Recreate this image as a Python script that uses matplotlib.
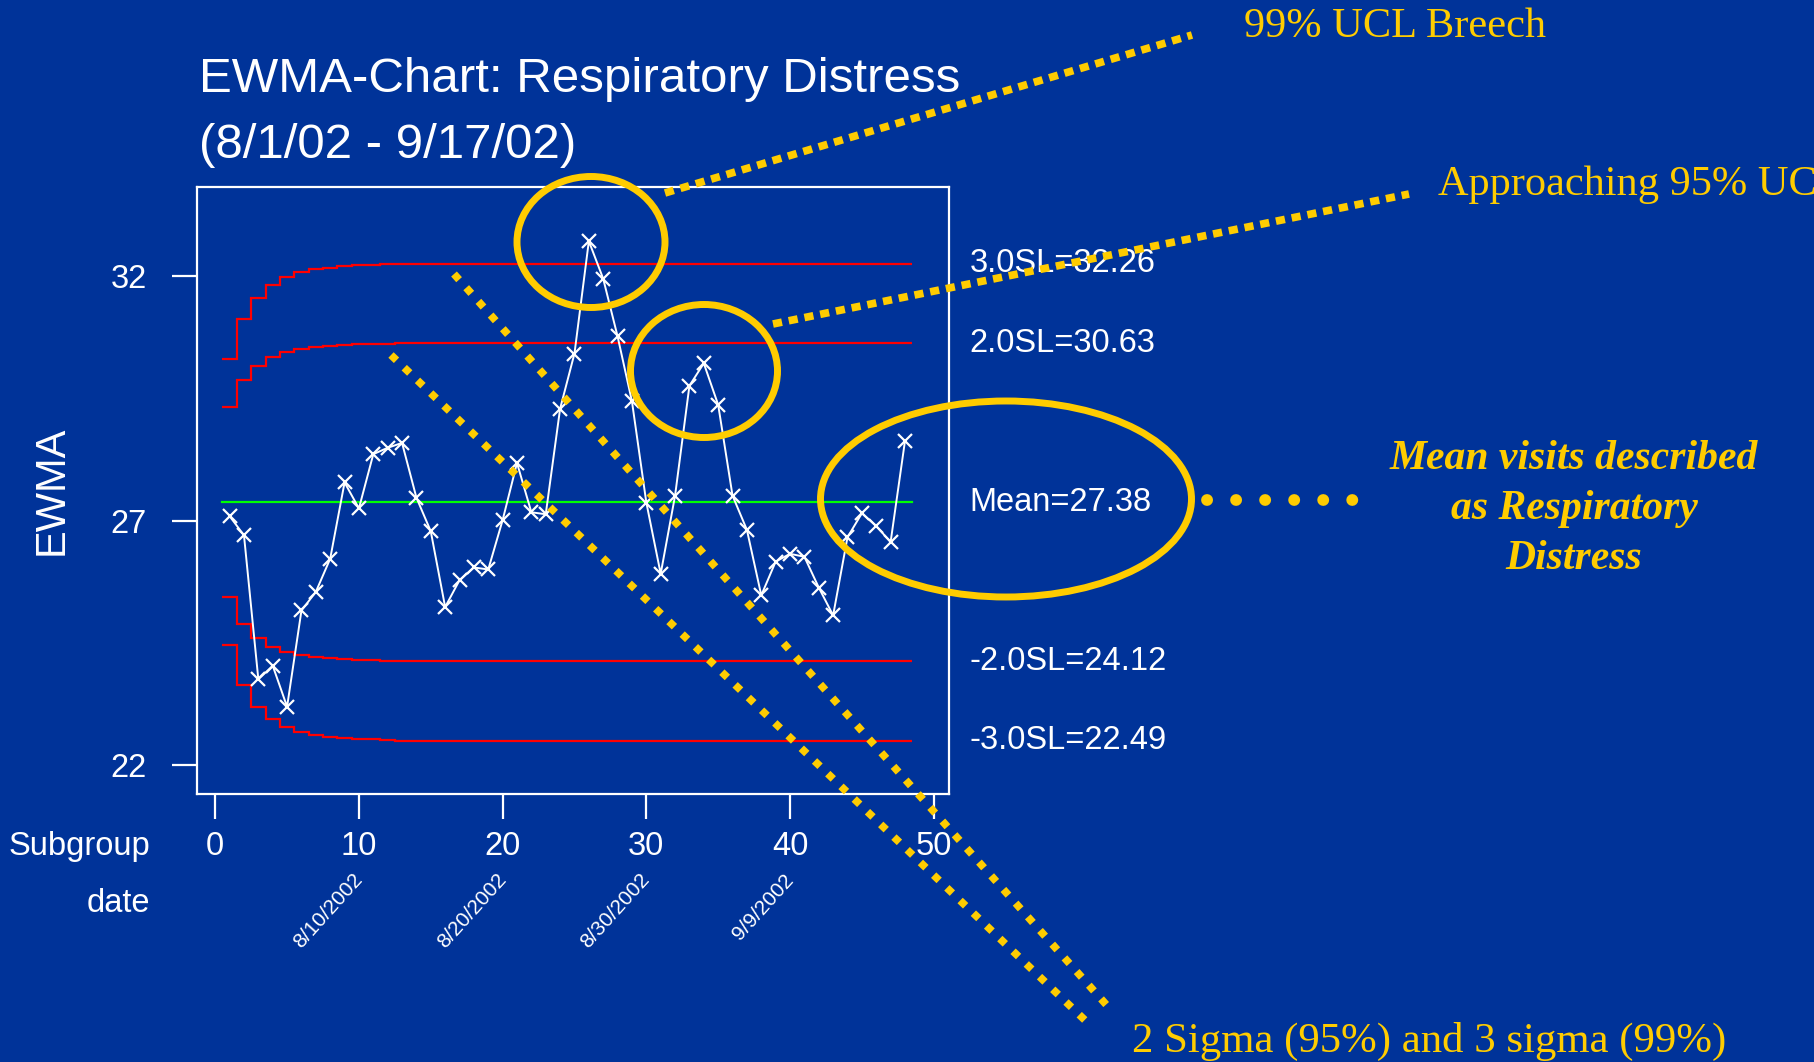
import numpy as np
import matplotlib
matplotlib.use("Agg")
import matplotlib.pyplot as plt
from matplotlib.patches import Ellipse
from matplotlib.transforms import blended_transform_factory

# ---------------- data ----------------
subgroup = list(range(1, 49))
ewma = [27.09, 26.70, 23.75, 24.03, 23.19, 25.16, 25.54, 26.22, 27.78, 27.25,
        28.36, 28.49, 28.59, 27.47, 26.78, 25.23, 25.78, 26.04, 26.00, 27.01,
        28.18, 27.17, 27.13, 29.29, 30.42, 32.72, 31.95, 30.77, 29.44, 27.37,
        25.91, 27.51, 29.76, 30.22, 29.37, 27.51, 26.81, 25.47, 26.16, 26.32,
        26.26, 25.63, 25.06, 26.66, 27.15, 26.89, 26.56, 28.63]
mean_val = 27.38
ucl3 = [30.31, 31.12, 31.56, 31.82, 31.98, 32.08, 32.14, 32.18, 32.21, 32.23, 32.24, 32.25] + [32.26] * 36
ucl2 = [29.33, 29.88, 30.17, 30.34, 30.45, 30.52, 30.56, 30.58, 30.60, 30.61, 30.62, 30.62] + [30.63] * 36
lcl2 = [25.43, 24.88, 24.59, 24.42, 24.31, 24.24, 24.20, 24.18, 24.16, 24.15, 24.14, 24.13] + [24.12] * 36
lcl3 = [24.45, 23.63, 23.19, 22.93, 22.77, 22.67, 22.61, 22.57, 22.54, 22.53, 22.52, 22.50] + [22.49] * 36
limit_labels = ["3.0SL=32.26", "2.0SL=30.63", "Mean=27.38", "-2.0SL=24.12", "-3.0SL=22.49"]
limit_values = [32.26, 30.63, 27.38, 24.12, 22.49]
x_ticks = [0, 10, 20, 30, 40, 50]
y_ticks = [22, 27, 32]
date_ticks = [10, 20, 30, 40]
date_labels = ["8/10/2002", "8/20/2002", "8/30/2002", "9/9/2002"]

# ---------------- style ----------------
BG = "#003399"
YEL = "#FFCC00"
SANS = ["Liberation Sans", "DejaVu Sans"]
SERIF = ["Liberation Serif", "DejaVu Serif"]

W, H = 1814, 1062
fig = plt.figure(figsize=(W / 100, H / 100), dpi=100, facecolor=BG)

ax = fig.add_axes([196.7 / W, 1 - 793.7 / H, (948.8 - 196.7) / W, (793.7 - 187.4) / H])
ax.set_facecolor(BG)
for s in ax.spines.values():
    s.set_color("white")
    s.set_linewidth(1.6)

edges = np.arange(0.5, len(subgroup) + 1, 1.0)
for vals in (ucl3, ucl2, lcl2, lcl3):
    ax.stairs(vals, edges, baseline=None, color="#FF0000", linewidth=1.6)
ax.plot([edges[0], edges[-1]], [mean_val, mean_val], color="#00FF00", linewidth=1.6)
ax.plot(subgroup, ewma, color="white", linewidth=1.4, marker="x",
        markersize=10, markeredgewidth=1.6)

ax.set_xlim(-1.29, 51.05)
ax.set_ylim(21.41, 33.82)
ax.set_xticks(x_ticks)
ax.set_yticks(y_ticks)
ax.tick_params(axis="both", colors="white", length=18, width=1.6, labelsize=23.5)
ax.tick_params(axis="y", pad=18)
ax.tick_params(axis="x", pad=9)
for lab in ax.get_xticklabels() + ax.get_yticklabels():
    lab.set_family(SANS)

ax.set_ylabel("EWMA", color="white", fontsize=30, family=SANS, labelpad=28)

# limit labels
tr = blended_transform_factory(ax.transAxes, ax.transData)
for lbl, v in zip(limit_labels, limit_values):
    ax.text(1.028, v, lbl, transform=tr, color="white", fontsize=23.5, family=SANS,
            ha="left", va="center", clip_on=False)

# Subgroup / date row labels
fig.text(150 / W, 1 - 846 / H, "Subgroup", color="white", fontsize=23.5, family=SANS,
         ha="right", va="center")
fig.text(150 / W, 1 - 904 / H, "date", color="white", fontsize=23.5, family=SANS,
         ha="right", va="center")
for xd, dl in zip(date_ticks, date_labels):
    ax.annotate(dl, xy=(xd, 0), xycoords=("data", "axes fraction"),
                xytext=(-5, -55), textcoords="offset points",
                rotation=48, rotation_mode="anchor", ha="right", va="top",
                color="white", fontsize=15, family=SANS, annotation_clip=False)

# title
fig.text(199 / W, 1 - 80 / H, "EWMA-Chart: Respiratory Distress", color="white",
         fontsize=35.5, family=SANS, ha="left", va="center")
fig.text(199 / W, 1 - 145 / H, "(8/1/02 - 9/17/02)", color="white",
         fontsize=35.5, family=SANS, ha="left", va="center")

# ---------------- annotation overlay (pixel coordinates) ----------------
ov = fig.add_axes([0, 0, 1, 1], facecolor="none")
ov.set_xlim(0, W)
ov.set_ylim(H, 0)
ov.axis("off")

ellipses = [((591, 242), 148, 131), ((704, 371), 147, 133), ((1006, 499), 371, 196)]
for c, w, h in ellipses:
    ov.add_patch(Ellipse(c, w, h, fill=False, edgecolor=YEL, linewidth=5))

callouts = [((665, 193), (1192, 35)), ((773, 324), (1409, 194))]
for p0, p1 in callouts:
    ov.plot([p0[0], p1[0]], [p0[1], p1[1]], color=YEL, linewidth=5.5,
            dashes=(1.2, 0.9), dash_capstyle="butt")

diagonals = [((454, 274), (1111, 1010)), ((391, 355), (1090, 1025))]
for p0, p1 in diagonals:
    ov.plot([p0[0], p1[0]], [p0[1], p1[1]], color=YEL, linewidth=5.5,
            dashes=(1.0, 1.4), dash_capstyle="butt")

ov.plot([1207, 1356], [500, 500], color=YEL, linewidth=8.5,
        dashes=(0.01, 2.45), dash_capstyle="round")

ov.text(1244, 27, "99% UCL Breech", color=YEL, fontsize=30.5, family=SERIF,
        ha="left", va="center")
ov.text(1438, 185, "Approaching 95% UCL", color=YEL, fontsize=30.5, family=SERIF,
        ha="left", va="center")
ov.text(1574, 509, "Mean visits described\nas Respiratory\nDistress", color=YEL,
        fontsize=30, family=SERIF, style="italic", weight="bold",
        ha="center", va="center", linespacing=1.42)
ov.text(1132, 1041, "2 Sigma (95%) and 3 sigma (99%)", color=YEL, fontsize=30.8,
        family=SERIF, ha="left", va="center")

fig.savefig("out.png", dpi=100, facecolor=BG)
